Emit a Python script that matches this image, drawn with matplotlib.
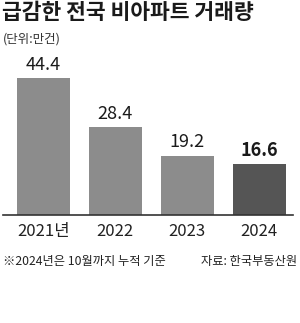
import matplotlib
matplotlib.use("Agg")
import matplotlib.pyplot as plt

plt.rcParams['font.family'] = ['Noto Sans CJK KR', 'DejaVu Sans']

years = ["2021년", "2022", "2023", "2024"]
values = [44.4, 28.4, 19.2, 16.6]
colors = ["#8c8c8c", "#8c8c8c", "#8c8c8c", "#555555"]

fig = plt.figure(figsize=(3.0, 3.23), dpi=100)
ax = fig.add_axes([0.01, 0.3344, 0.9667, 0.4783])

x = list(range(len(values)))
ax.bar(x, values, width=0.74, color=colors)
for xi, v in zip(x, values):
    ax.annotate(f"{v}", (xi, v), xytext=(0, 3), textcoords="offset points",
                ha="center", va="bottom", fontsize=13, color="#1a1a1a",
                fontweight="bold" if xi == 3 else "normal")

ax.set_xlim(-0.56, 3.47)
ax.set_ylim(0, 50)
ax.set_xticks(x)
ax.set_xticklabels(years, fontsize=12, color="#222222")
ax.tick_params(axis="x", length=0, pad=6)
ax.set_yticks([])
for s in ["top", "left", "right"]:
    ax.spines[s].set_visible(False)
ax.spines["bottom"].set_color("#333333")
ax.spines["bottom"].set_linewidth(1.2)

fig.text(0.008, 0.962, "급감한 전국 비아파트 거래량", fontsize=15.5, fontweight="bold",
         color="#1a1a1a", va="center", ha="left")
fig.text(0.01, 0.878, "(단위:만건)", fontsize=9, color="#333333", va="center", ha="left")
fig.text(0.01, 0.189, "※2024년은 10월까지 누적 기준", fontsize=8.8, color="#222222",
         va="center", ha="left")
fig.text(0.99, 0.189, "자료: 한국부동산원", fontsize=8.8, color="#222222",
         va="center", ha="right")

fig.savefig("out.png", dpi=100)
